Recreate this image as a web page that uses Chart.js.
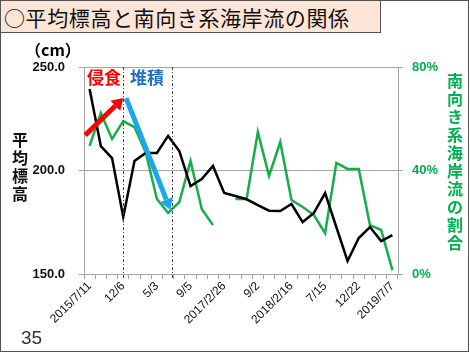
<!DOCTYPE html>
<html>
<head>
<meta charset="utf-8">
<script src="https://cdn.jsdelivr.net/npm/chart.js@4"></script>
<style>
  html, body { margin: 0; padding: 0; background: #fff; }
  #wrap { position: relative; width: 470px; height: 353px; overflow: hidden; font-family: "Noto Sans CJK JP", sans-serif; }
  #frame { position: absolute; left: 0; top: 0; width: 467px; height: 350px; border: 1.5px solid #555; box-sizing: content-box; pointer-events: none; }
  #title { position: absolute; left: 0; top: 0; width: 381px; height: 33px; background: #fce4d6; border: 1.5px solid #555; font-size: 21px; line-height: 32px; padding-left: 3px; box-sizing: border-box; color: #111; letter-spacing: 0.6px; }
  #page { position: absolute; left: 21px; top: 327px; font-size: 19px; color: #333; font-family: "Liberation Sans", sans-serif; }
  .vt { position: absolute; font-weight: bold; font-size: 16px; line-height: 18px; width: 18px; text-align: center; }
  #unit { position: absolute; left: 25px; top: 37px; font-size: 16px; font-weight: bold; }
  canvas { position: absolute; left: 0; top: 0; }
</style>
</head>
<body>
<div id="wrap">
  <canvas id="chart" width="470" height="353"></canvas>
  <div id="title">○平均標高と南向き系海岸流の関係</div>
  <div id="unit">（cm）</div>
  <div class="vt" style="left:11px; top:130px; color:#111;">平<br>均<br>標<br>高</div>
  <div class="vt" style="left:446px; top:71px; color:#00b050;">南<br>向<br>き<br>系<br>海<br>岸<br>流<br>の<br>割<br>合</div>
  <div id="page">35</div>
  <div id="frame"></div>
</div>
<script>
// 観測日（3回ごとにラベル）
const labels = ['2015/7/11', '', '', '12/6', '', '', '5/3', '', '', '9/5', '', '', '2017/2/26', '', '',
    '9/2', '', '', '2018/2/16', '', '', '7/15', '', '', '12/22', '', '', '2019/7/7'];
// 平均標高 (cm)
const heights = [239.4, 211.8, 206.0, 177.5, 204.6, 208.5, 208.5, 216.7, 209.4, 192.5, 195.9, 202.2, 189.1, 187.7,
    186.1, 183.3, 180.6, 180.4, 183.8, 175.1, 179.5, 189.1, 172.7, 156.3, 167.4, 172.7, 165.9, 168.8];
// 南向き系海岸流の割合 (%)
const southRatio = [49.5, 62.2, 52.2, 59.1, 56.8, 47.1, 29.0, 23.6, 27.8, 43.7, 25.1, 18.9, null, 29.0,
    29.0, 54.9, 37.9, 51.0, 28.6, 25.9, 22.8, 15.8, 42.9, 40.6, 40.6, 18.9, 17.0, 1.5];
const leftTicks = [150, 200, 250];
const rightTicks = [0, 40, 80];

// 侵食・堆積の区切りと矢印
const marks = {
    dividers: [3, 7.35],
    erosion: {from: [-0.4, 217], to: [3, 235]},
    deposit: {from: [3.25, 235], to: [7.2, 181]}
};

const drawArrow = (ctx, x1, y1, x2, y2, color) => {
    const ang = Math.atan2(y2 - y1, x2 - x1);
    const head = 11;
    const bx = x2 - head * Math.cos(ang), by = y2 - head * Math.sin(ang);
    ctx.save();
    ctx.strokeStyle = color;
    ctx.fillStyle = color;
    ctx.lineWidth = 5;
    ctx.beginPath();
    ctx.moveTo(x1, y1);
    ctx.lineTo(bx, by);
    ctx.stroke();
    ctx.beginPath();
    ctx.moveTo(x2, y2);
    ctx.lineTo(bx + 7 * Math.sin(ang), by - 7 * Math.cos(ang));
    ctx.lineTo(bx - 7 * Math.sin(ang), by + 7 * Math.cos(ang));
    ctx.closePath();
    ctx.fill();
    ctx.restore();
};

const notesPlugin = {
    id: 'notes',
    afterDatasetsDraw(chart) {
        const {ctx, chartArea, scales: {x, y}} = chart;
        ctx.save();
        ctx.strokeStyle = '#444';
        ctx.lineWidth = 1;
        ctx.setLineDash([3, 2, 1, 2]);
        marks.dividers.forEach(v => {
            const px = Math.round(x.getPixelForValue(v)) + 0.5;
            ctx.beginPath();
            ctx.moveTo(px, chartArea.top);
            ctx.lineTo(px, chartArea.bottom + 5);
            ctx.stroke();
        });
        ctx.restore();
        const e = marks.erosion, d = marks.deposit;
        drawArrow(ctx, x.getPixelForValue(e.from[0]), y.getPixelForValue(e.from[1]),
            x.getPixelForValue(e.to[0]), y.getPixelForValue(e.to[1]), '#ff0000');
        drawArrow(ctx, x.getPixelForValue(d.from[0]), y.getPixelForValue(d.from[1]),
            x.getPixelForValue(d.to[0]), y.getPixelForValue(d.to[1]), '#1ea7e8');
        ctx.save();
        ctx.font = 'bold 17px "Noto Sans CJK JP"';
        ctx.textBaseline = 'middle';
        ctx.fillStyle = '#ff0000';
        ctx.fillText('侵食', 87, 78);
        ctx.fillStyle = '#2470c0';
        ctx.fillText('堆積', 130, 78);
        ctx.restore();
    }
};

new Chart(document.getElementById('chart').getContext('2d'), {
    type: 'line',
    data: {
        labels: labels,
        datasets: [{
            label: '平均標高',
            data: heights,
            borderColor: '#000',
            borderWidth: 2.5,
            pointRadius: 0,
            tension: 0,
            yAxisID: 'y'
        }, {
            label: '南向き系海岸流の割合',
            data: southRatio,
            borderColor: '#16ad4a',
            borderWidth: 2.5,
            pointRadius: 0,
            tension: 0,
            spanGaps: false,
            yAxisID: 'y2'
        }]
    },
    options: {
        responsive: false,
        animation: false,
        layout: {padding: {top: 67, left: 0, right: 0, bottom: 0}},
        plugins: {legend: {display: false}, tooltip: {enabled: false}},
        scales: {
            x: {
                offset: true,
                grid: {offset: true, drawOnChartArea: false, drawTicks: true, tickLength: 5, color: '#a6a6a6'},
                border: {color: '#a6a6a6'},
                ticks: {
                    autoSkip: false, maxRotation: 45, minRotation: 45, padding: 0,
                    color: '#111', font: {family: 'Liberation Sans', size: 12}
                },
                afterFit: s => { s.height = 79; }
            },
            y: {
                position: 'left',
                min: 150, max: 250,
                afterBuildTicks: s => { s.ticks = leftTicks.map(v => ({value: v})); },
                grid: {color: '#a6a6a6', tickLength: 5},
                border: {color: '#a6a6a6'},
                ticks: {
                    padding: 14, color: '#111',
                    font: {family: 'Liberation Sans', size: 13, weight: 'bold'},
                    callback: v => v.toFixed(1)
                },
                afterFit: s => { s.width = 84; }
            },
            y2: {
                position: 'right',
                min: 0, max: 80,
                afterBuildTicks: s => { s.ticks = rightTicks.map(v => ({value: v})); },
                grid: {drawOnChartArea: false, color: '#a6a6a6', tickLength: 5},
                border: {color: '#a6a6a6'},
                ticks: {
                    padding: 9, color: '#00b050',
                    font: {family: 'Liberation Sans', size: 13, weight: 'bold'},
                    callback: v => v + '%'
                },
                afterFit: s => { s.width = 72; }
            }
        }
    },
    plugins: [notesPlugin]
});
</script>
</body>
</html>
